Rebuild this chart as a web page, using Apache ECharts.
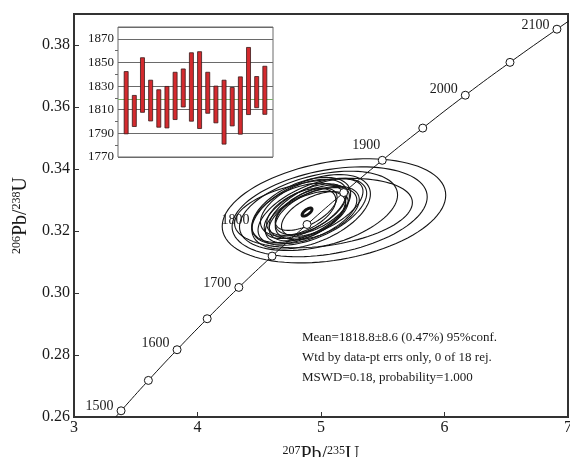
<!DOCTYPE html>
<html>
<head>
<meta charset="utf-8">
<script src="https://cdn.jsdelivr.net/npm/echarts@6/dist/echarts.min.js"></script>
<style>
  html, body { margin: 0; padding: 0; background: #fff; }
  #main { width: 570px; height: 457px; }
</style>
</head>
<body>
<div id="main"></div>
<script>
// concordia age marks (Ma) and their 207Pb/235U, 206Pb/238U coordinates
var ages  = [1500, 1550, 1600, 1650, 1700, 1750, 1800, 1850, 1900, 1950, 2000, 2050, 2100];
var concX = [3.3811, 3.6023, 3.8346, 4.0784, 4.3347, 4.6040, 4.8868, 5.1840, 5.4961, 5.8240, 6.1684, 6.5302, 6.9104];
var concY = [0.2620, 0.2718, 0.2817, 0.2917, 0.3018, 0.3119, 0.3221, 0.3324, 0.3428, 0.3532, 0.3638, 0.3744, 0.3851];
// curve runs a little past the first and last mark
var curveX = [3.3381].concat(concX, [7.0678]);
var curveY = [0.2600].concat(concY, [0.3894]);

// error ellipses: centre, half-axes (2 sigma) and error correlation
var ellCx  = [5.105, 5.07, 4.98, 5.02, 4.92, 4.93, 4.84, 4.96, 4.82, 4.92, 4.86, 4.97, 4.87, 4.89, 4.93, 4.84, 4.95, 4.88];
var ellCy  = [0.3265, 0.3262, 0.3265, 0.3258, 0.3262, 0.3262, 0.3268, 0.3272, 0.3256, 0.3250, 0.3275, 0.3258, 0.3264, 0.3248, 0.3268, 0.3262, 0.3255, 0.3270];
var ellSx  = [0.905, 0.79, 0.64, 0.72, 0.48, 0.44, 0.40, 0.38, 0.38, 0.37, 0.35, 0.34, 0.33, 0.31, 0.30, 0.28, 0.27, 0.25];
var ellSy  = [0.0168, 0.0145, 0.0128, 0.0112, 0.0120, 0.0108, 0.0105, 0.0096, 0.0098, 0.0090, 0.0092, 0.0086, 0.0088, 0.0080, 0.0080, 0.0076, 0.0072, 0.0068];
var ellRho = [0.30, 0.33, 0.40, 0.30, 0.48, 0.55, 0.50, 0.58, 0.45, 0.55, 0.50, 0.50, 0.60, 0.52, 0.55, 0.50, 0.55, 0.58];
// concordia age ellipse
var meanEll = [4.887, 0.3261, 0.040, 0.0013, 0.70];

// inset: weighted mean plot, age error bars (Ma)
var barLo = [1789.6, 1795.8, 1807.8, 1800.5, 1795.2, 1794.6, 1801.7, 1812.3, 1800.3, 1794.1, 1807.0, 1798.9, 1780.9, 1796.3, 1789.3, 1805.9, 1811.7, 1806.1];
var barHi = [1842.3, 1822.1, 1854.0, 1835.0, 1826.9, 1829.7, 1841.7, 1844.5, 1858.2, 1859.1, 1841.7, 1830.0, 1835.0, 1828.8, 1837.8, 1862.7, 1838.1, 1846.8];
var meanAge = 1818.8;

var statsText = [
  'Mean=1818.8\u00b18.6 (0.47%) 95%conf.',
  'Wtd by data-pt errs only, 0 of 18 rej.',
  'MSWD=0.18, probability=1.000'
];

var serif = '"Liberation Serif", "DejaVu Serif", serif';

var chart = echarts.init(document.getElementById('main'), null, { renderer: 'canvas' });

function ellipseItem(lw) {
  return function (params, api) {
    var cx = api.value(0), cy = api.value(1), sx = api.value(2), sy = api.value(3), r = api.value(4);
    var k = Math.sqrt(1 - r * r);
    var pts = [];
    for (var i = 0; i < 96; i++) {
      var a = i / 96 * Math.PI * 2;
      pts.push(api.coord([cx + sx * Math.cos(a), cy + sy * (r * Math.cos(a) + k * Math.sin(a))]));
    }
    return {
      type: 'polygon',
      shape: { points: pts },
      style: { fill: 'none', stroke: '#141414', lineWidth: lw }
    };
  };
}

var ellData = ellCx.map(function (c, i) {
  return [c, ellCy[i], ellSx[i], ellSy[i], ellRho[i]];
});

// where each age label sits relative to its mark
var labelPos = {
  1500: { position: 'left', offset: [0, -4] },
  1600: { position: 'left', offset: [0, -6] },
  1700: { position: 'left', offset: [0, -4] },
  1800: { position: 'left', offset: [-50, -4] },
  1900: { position: 'top', offset: [-16, 0] },
  2000: { position: 'left', offset: [0, -6] },
  2100: { position: 'left', offset: [0, -4] }
};

var markData = ages.map(function (a, i) {
  var lp = labelPos[a];
  return {
    value: [concX[i], concY[i]],
    label: lp ? {
      show: true,
      formatter: String(a),
      position: lp.position,
      offset: lp.offset,
      distance: 3,
      color: '#1a1a1a',
      fontFamily: serif,
      fontSize: 14
    } : { show: false }
  };
});

var curveData = curveX.map(function (x, i) { return [x, curveY[i]]; });

var barData = barLo.map(function (lo, i) { return [i + 1, lo, barHi[i]]; });

var option = {
  backgroundColor: '#fff',
  animation: false,
  grid: [
    {
      left: 74, right: 2, top: 14, bottom: 40, outerBoundsMode: 'none',
      show: true, borderColor: '#333', borderWidth: 2, backgroundColor: 'transparent'
    },
    {
      left: 118, top: 27, width: 155, height: 130, outerBoundsMode: 'none',
      show: true, borderColor: '#6a6a6a', borderWidth: 1, backgroundColor: '#fff'
    }
  ],
  xAxis: [
    {
      gridIndex: 0, type: 'value', min: 3, max: 7, interval: 1,
      axisLine: { show: true, lineStyle: { color: '#333', width: 2 } },
      axisTick: { show: true, inside: true, length: 5, lineStyle: { color: '#333' } },
      axisLabel: { color: '#1a1a1a', fontFamily: serif, fontSize: 16, margin: 3 },
      splitLine: { show: false },
      name: '{sup|207}{b|Pb/}{sup|235}{b|U}',
      nameLocation: 'middle', nameGap: 28,
      nameTextStyle: {
        rich: {
          b: { fontFamily: serif, fontSize: 20, color: '#1a1a1a' },
          sup: { fontFamily: serif, fontSize: 12, color: '#1a1a1a', verticalAlign: 'top' }
        }
      }
    },
    {
      gridIndex: 1, type: 'value', min: 0, max: 19, show: false
    }
  ],
  yAxis: [
    {
      gridIndex: 0, type: 'value', min: 0.26, max: 0.39, interval: 0.02,
      axisLine: { show: true, lineStyle: { color: '#333', width: 2 } },
      axisTick: { show: true, inside: true, length: 5, lineStyle: { color: '#333' } },
      axisLabel: {
        color: '#1a1a1a', fontFamily: serif, fontSize: 16, margin: 4, showMaxLabel: false,
        formatter: function (v) { return v.toFixed(2); }
      },
      splitLine: { show: false },
      name: '{sup|206}{b|Pb/}{sup|238}{b|U}',
      nameLocation: 'middle', nameGap: 37,
      nameTextStyle: {
        rich: {
          b: { fontFamily: serif, fontSize: 20, color: '#1a1a1a' },
          sup: { fontFamily: serif, fontSize: 12, color: '#1a1a1a', verticalAlign: 'top' }
        }
      }
    },
    {
      gridIndex: 1, type: 'value', min: 1770, max: 1880, interval: 20,
      axisLine: { show: false },
      axisTick: { show: false },
      minorTick: { show: true, splitNumber: 2, length: 3, lineStyle: { color: '#666' } },
      axisLabel: {
        color: '#1a1a1a', fontFamily: serif, fontSize: 13, margin: 4, showMaxLabel: false,
        formatter: function (v) { return String(v); }
      },
      splitLine: { show: true, lineStyle: { color: '#6a6a6a', width: 1 } }
    }
  ],
  graphic: [
    {
      type: 'text', left: 302, top: 328, z: 10,
      style: {
        text: statsText.join('\n'),
        font: '13px ' + serif,
        lineHeight: 20,
        fill: '#1a1a1a'
      }
    }
  ],
  series: [
    {
      type: 'custom', xAxisIndex: 0, yAxisIndex: 0, z: 2,
      renderItem: ellipseItem(1.1),
      data: ellData,
      encode: { x: 0, y: 1 },
      clip: true
    },
    {
      type: 'custom', xAxisIndex: 0, yAxisIndex: 0, z: 3,
      renderItem: ellipseItem(3),
      data: [meanEll],
      encode: { x: 0, y: 1 }
    },
    {
      type: 'line', xAxisIndex: 0, yAxisIndex: 0, z: 4,
      data: curveData, smooth: true, showSymbol: false, symbol: 'none', clip: true,
      lineStyle: { color: '#141414', width: 1 }
    },
    {
      type: 'scatter', xAxisIndex: 0, yAxisIndex: 0, z: 5,
      data: markData, symbol: 'circle', symbolSize: 8,
      itemStyle: { color: '#fff', borderColor: '#141414', borderWidth: 1, opacity: 1 }
    },
    {
      type: 'custom', xAxisIndex: 1, yAxisIndex: 1, z: 6,
      data: barData,
      encode: { x: 0, y: [1, 2] },
      renderItem: function (params, api) {
        var top = api.coord([api.value(0), api.value(2)]);
        var bot = api.coord([api.value(0), api.value(1)]);
        return {
          type: 'rect',
          shape: { x: top[0] - 2, y: top[1], width: 4, height: bot[1] - top[1] },
          style: { fill: '#d42a2e', stroke: '#3a1a1a', lineWidth: 0.8 }
        };
      },
      markLine: {
        silent: true, symbol: 'none', label: { show: false },
        lineStyle: { color: '#7bb06a', width: 1, type: 'solid' },
        data: [{ yAxis: meanAge }]
      }
    }
  ]
};

chart.setOption(option);
</script>
</body>
</html>
